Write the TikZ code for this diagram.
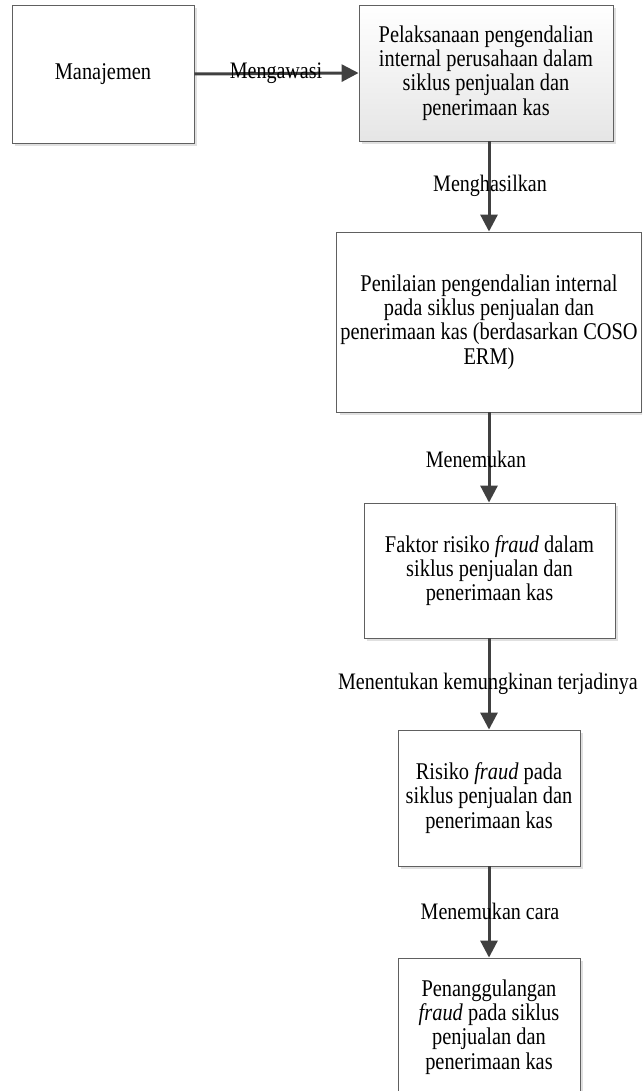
\documentclass[tikz,border=0pt]{standalone}
\usepackage{fontspec}
\setmainfont{Liberation Serif}[FakeStretch=0.85]
\usetikzlibrary{arrows.meta,shadows}
\definecolor{edge}{HTML}{606060}
\definecolor{arrowc}{HTML}{404040}
\tikzset{
  x=1pt, y=-1pt,
  box/.style={draw=edge, line width=0.9pt, fill=white, align=center, inner sep=0pt,
    font=\fontsize{24}{24.3}\selectfont,
    drop shadow={shadow xshift=3pt, shadow yshift=-3pt, fill=black!12, opacity=1}},
  gradbox/.style={box, top color=white, bottom color=black!10},
  arr/.style={draw=arrowc, line width=3pt, -{Triangle[length=17pt,width=17pt]}},
  lbl/.style={font=\fontsize{23.6}{24}\selectfont, inner sep=0pt}
}
\begin{document}
\begin{tikzpicture}
\useasboundingbox (0,0) rectangle (642,1091);
\begin{scope}
\clip (0,0) rectangle (642,1091);
\node[box, minimum width=182pt, minimum height=138pt] (m) at (103,74) {Manajemen};
\node[gradbox, minimum width=254pt, minimum height=136pt] (p) at (486,73)
  {Pelaksanaan pengendalian\\internal perusahaan dalam\\siklus penjualan dan\\penerimaan kas};
\node[box, minimum width=305pt, minimum height=180pt] (n) at (489,322)
  {Penilaian pengendalian internal\\pada siklus penjualan dan\\penerimaan kas (berdasarkan COSO\\ERM)};
\node[box, minimum width=251pt, minimum height=135pt] (f) at (489.5,570.5)
  {Faktor risiko \textit{fraud} dalam\\siklus penjualan dan\\penerimaan kas};
\node[box, minimum width=182pt, minimum height=136pt] (r) at (489,798)
  {Risiko \textit{fraud} pada\\siklus penjualan dan\\penerimaan kas};
\node[box, minimum width=182pt, minimum height=138pt] (c) at (489,1027)
  {Penanggulangan\\\textit{fraud} pada siklus\\penjualan dan\\penerimaan kas};
\end{scope}
\draw[arr] (m.east) -- (p.west);
\draw[arr] (p.south -| n.north) -- (n.north);
\draw[arr] (n.south) -- (f.north -| n.south);
\draw[arr] (f.south -| r.north) -- (r.north);
\draw[arr] (r.south) -- (c.north);
\node[lbl] (l1) at (276,73) {Mengawasi};
\node[lbl] (l2) at (490,186) {Menghasilkan};
\node[lbl] (l3) at (476,459) {Menemukan};
\node[lbl] (l4) at (488,684) {Menentukan kemungkinan terjadinya};
\node[lbl] (l5) at (490,911) {Menemukan cara};
\end{tikzpicture}
\end{document}
